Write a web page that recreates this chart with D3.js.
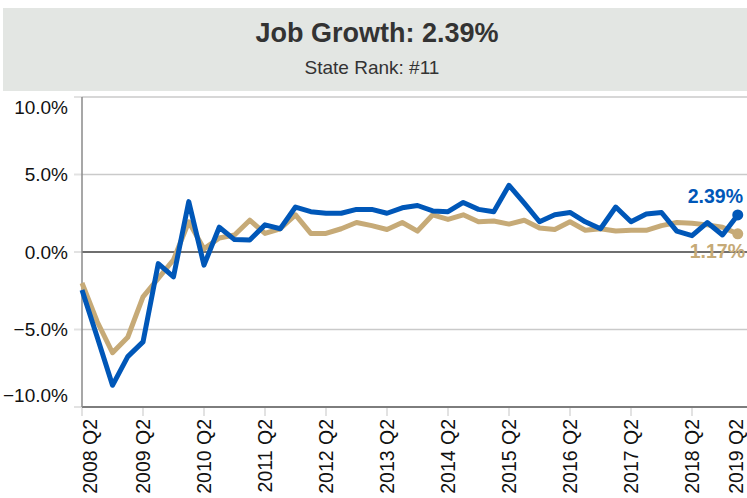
<!DOCTYPE html>
<meta charset="utf-8">
<script src="https://d3js.org/d3.v7.min.js"></script>
<style>
  body { margin: 0; background: #fff; }
  svg { display: block; }
</style>
<div id="chart"></div>
<script>
// quarters on the category axis
const quarters = [
  "2008 Q2","2008 Q3","2008 Q4","2009 Q1","2009 Q2","2009 Q3","2009 Q4","2010 Q1",
  "2010 Q2","2010 Q3","2010 Q4","2011 Q1","2011 Q2","2011 Q3","2011 Q4","2012 Q1",
  "2012 Q2","2012 Q3","2012 Q4","2013 Q1","2013 Q2","2013 Q3","2013 Q4","2014 Q1",
  "2014 Q2","2014 Q3","2014 Q4","2015 Q1","2015 Q2","2015 Q3","2015 Q4","2016 Q1",
  "2016 Q2","2016 Q3","2016 Q4","2017 Q1","2017 Q2","2017 Q3","2017 Q4","2018 Q1",
  "2018 Q2","2018 Q3","2018 Q4","2019 Q1","2019 Q2"
];
// state job growth (%), blue
const stateGrowth = [
  -2.45, -5.5, -8.6, -6.75, -5.8, -0.75, -1.6, 3.25, -0.85, 1.6, 0.8, 0.77,
  1.75, 1.5, 2.9, 2.6, 2.5, 2.5, 2.75, 2.75, 2.5, 2.85, 3.0, 2.65,
  2.6, 3.2, 2.75, 2.6, 4.3, 3.15, 1.95, 2.4, 2.55, 1.95, 1.5, 2.9,
  1.95, 2.45, 2.55, 1.35, 1.05, 1.9, 1.1, 2.39
];
// national job growth (%), tan
const usGrowth = [
  -2.0, -4.5, -6.5, -5.5, -2.9, -1.7, -0.5, 1.95, 0.2, 0.9, 1.1, 2.05,
  1.2, 1.5, 2.4, 1.2, 1.2, 1.5, 1.9, 1.7, 1.45, 1.9, 1.35, 2.4,
  2.1, 2.4, 1.95, 2.0, 1.8, 2.05, 1.55, 1.45, 1.95, 1.4, 1.5, 1.35,
  1.4, 1.4, 1.7, 1.9, 1.85, 1.75, 1.6, 1.17
];
const yTicks = [-10, -5, 0, 5, 10];
const xTickLabels = ["2008 Q2","2009 Q2","2010 Q2","2011 Q2","2012 Q2","2013 Q2",
  "2014 Q2","2015 Q2","2016 Q2","2017 Q2","2018 Q2","2019 Q2"];
const title = "Job Growth: 2.39%";
const subtitle = "State Rank: #11";

const W = 747, H = 498;
const plot = {left: 82, right: 753, top: 97, bottom: 407};
const font = "'Liberation Sans', Arial, sans-serif";
const blue = "#0057b8", tan = "#c6aa77";

const svg = d3.select("#chart").append("svg")
    .attr("width", W)
    .attr("height", H);

// header band
svg.append("rect")
    .attr("x", 3).attr("y", 8)
    .attr("width", W - 3).attr("height", 83)
    .attr("fill", "#e3e6e3");
svg.append("text")
    .attr("x", 377).attr("y", 42)
    .attr("text-anchor", "middle")
    .style("font-family", font).style("font-weight", "bold").style("font-size", "27px")
    .attr("fill", "#333")
    .text(title);
svg.append("text")
    .attr("x", 372).attr("y", 74)
    .attr("text-anchor", "middle")
    .style("font-family", font).style("font-size", "19px")
    .attr("fill", "#333")
    .text(subtitle);

// scales
const x = d3.scalePoint().domain(quarters).range([plot.left, plot.right]);
const y = d3.scaleLinear().domain([-10, 10]).range([plot.bottom, plot.top]);

// horizontal gridlines
svg.append("g").selectAll("line")
    .data(yTicks)
    .join("line")
    .attr("x1", plot.left).attr("x2", W)
    .attr("y1", d => y(d)).attr("y2", d => y(d))
    .attr("stroke", d => d === 0 ? "#6f6f6f" : (d === -10 ? "#7d7d7d" : "#cacaca"))
    .attr("stroke-width", d => (d === 0 || d === -10) ? 2 : 1.5);

// little outside ticks on the left
svg.append("g").selectAll("line")
    .data(yTicks)
    .join("line")
    .attr("x1", plot.left - 8).attr("x2", plot.left)
    .attr("y1", d => y(d)).attr("y2", d => y(d))
    .attr("stroke", "#e2e2e2").attr("stroke-width", 2);

// left axis line
svg.append("line")
    .attr("x1", plot.left).attr("x2", plot.left)
    .attr("y1", plot.top).attr("y2", plot.bottom)
    .attr("stroke", "#8a8a8a").attr("stroke-width", 1.5);

// y labels (outer ones kept inside the plot height, like the original)
svg.append("g").selectAll("text")
    .data(yTicks)
    .join("text")
    .attr("x", 68)
    .attr("y", d => Math.min(Math.max(y(d), plot.top + 10), plot.bottom - 12))
    .attr("dy", "0.35em")
    .attr("text-anchor", "end")
    .style("font-family", font).style("font-size", "19px")
    .attr("fill", "#111")
    .text(d => d3.format(".1f")(d) + "%");

// x tick stubs
svg.append("g").selectAll("line")
    .data(xTickLabels)
    .join("line")
    .attr("x1", d => x(d)).attr("x2", d => x(d))
    .attr("y1", plot.bottom + 1).attr("y2", plot.bottom + 9)
    .attr("stroke", "#e2e2e2").attr("stroke-width", 2);

// x labels, rotated
svg.append("g").selectAll("text")
    .data(xTickLabels)
    .join("text")
    .attr("transform", d => `translate(${Math.min(Math.max(x(d), plot.left + 8), W - 11)},419) rotate(-90)`)
    .attr("dy", "0.35em")
    .attr("text-anchor", "end")
    .style("font-family", font).style("font-size", "19.5px")
    .attr("fill", "#111")
    .text(d => d);

// end labels
const last = quarters[stateGrowth.length - 1];
svg.append("text")
    .attr("x", x(last) - 50).attr("y", y(stateGrowth[stateGrowth.length - 1]) - 12)
    .style("font-family", font).style("font-weight", "bold").style("font-size", "19.5px")
    .attr("fill", blue)
    .text(d3.format(".2f")(stateGrowth[stateGrowth.length - 1]) + "%");
svg.append("text")
    .attr("x", x(last) - 48).attr("y", y(usGrowth[usGrowth.length - 1]) + 24)
    .style("font-family", font).style("font-weight", "bold").style("font-size", "19.5px")
    .attr("fill", tan)
    .text(d3.format(".2f")(usGrowth[usGrowth.length - 1]) + "%");

// lines
const line = d3.line()
    .x((d, i) => x(quarters[i]))
    .y(d => y(d));

[[usGrowth, tan], [stateGrowth, blue]].forEach(([series, color]) => {
  svg.append("path")
      .datum(series)
      .attr("d", line)
      .attr("fill", "none")
      .attr("stroke", color)
      .attr("stroke-width", 5)
      .attr("stroke-linejoin", "round");
  svg.append("circle")
      .attr("cx", x(quarters[series.length - 1]))
      .attr("cy", y(series[series.length - 1]))
      .attr("r", 5.5)
      .attr("fill", color);
});
</script>
